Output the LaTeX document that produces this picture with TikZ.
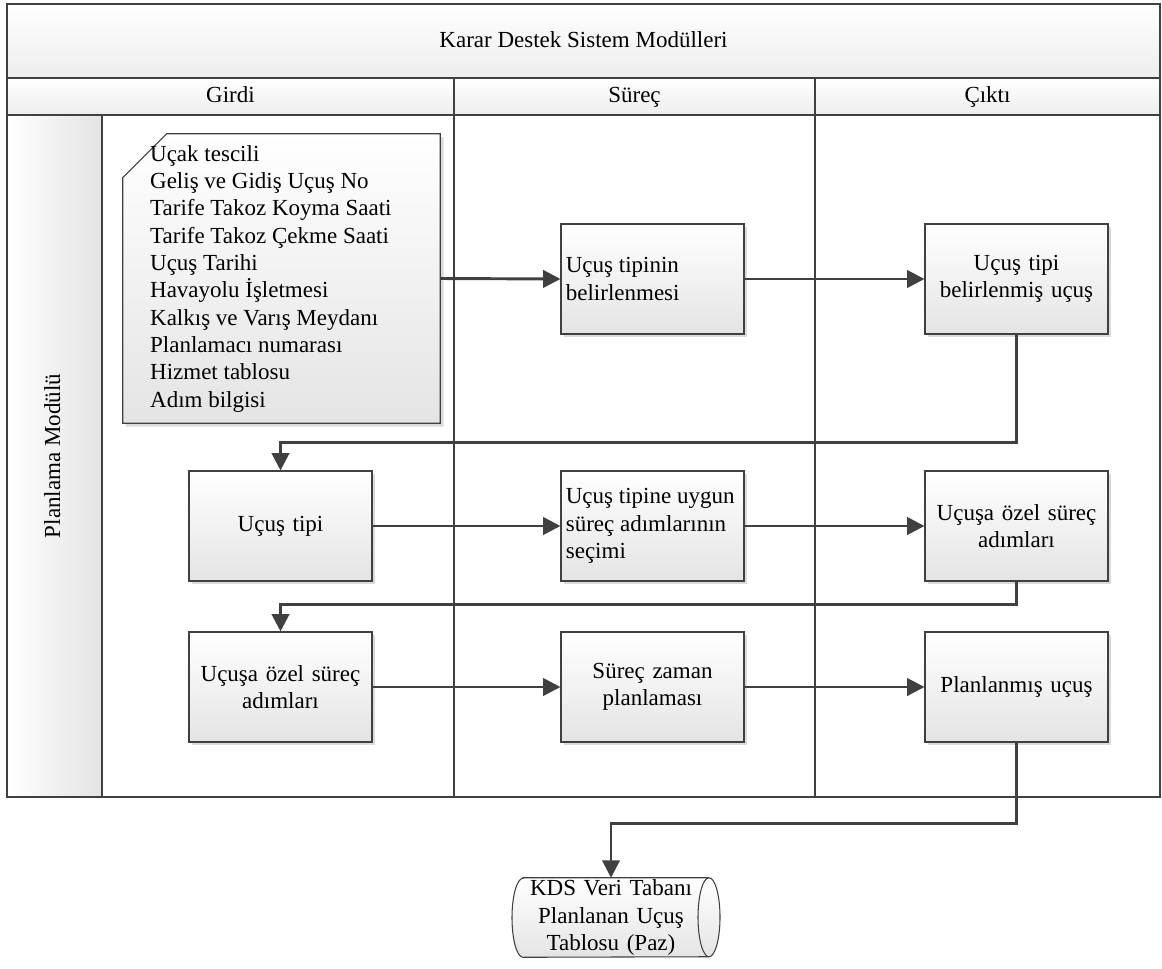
\documentclass[tikz,border=0pt]{standalone}
\usepackage{fontspec}
\setmainfont{Liberation Serif}
\usetikzlibrary{arrows.meta,shadows,backgrounds}
\definecolor{linegray}{HTML}{404040}
\definecolor{fillgray}{HTML}{E4E4E4}
\def\kdsfont{\fontsize{17.25}{20.5}\selectfont}
\tikzset{
	box/.style={draw=linegray, line width=0.8pt, top color=white, bottom color=fillgray,
		drop shadow={shadow xshift=2.5pt, shadow yshift=-2.5pt, fill=black!14, opacity=1},
		minimum width=137.25pt, minimum height=82.5pt, inner xsep=2.6pt, text width=132pt,
		align=center, font=\kdsfont},
	boxleft/.style={box, align=flush left, inner xsep=3.6pt, text width=130pt},
	notebox/.style={draw=linegray, line width=0.8pt, top color=white, bottom color=fillgray,
		drop shadow={shadow xshift=2.5pt, shadow yshift=-2.5pt, fill=black!14, opacity=1}},
	flow/.style={draw=linegray, line width=2.2pt, -{Triangle[length=13pt, width=13pt]}},
	frame/.style={draw=linegray, line width=1.1pt},
	head/.style={font=\kdsfont, anchor=base}
}

\begin{document}
\begin{tikzpicture}[x=0.75pt, y=-0.75pt]
			%%%%% START %%%%%
			\useasboundingbox (0, 0) rectangle (1162, 968);
			
			% title and header rows
			\draw[frame, top color=white, bottom color=black!7] (7, 4) rectangle (1160, 78);
			\draw[frame, top color=white, bottom color=black!7] (7, 78) rectangle (1160, 115);
			\draw[frame, left color=white, right color=black!11] (7, 115) rectangle (102, 797);
			\draw[frame] (7, 4) rectangle (1160, 797);
			\draw[frame] (454, 78) -- (454, 797);
			\draw[frame] (815, 78) -- (815, 797);
			
			\node[head] (baslik) at (583.5, 47) {Karar Destek Sistem Modülleri};
			\node[head] (girdibaslik) at (230.5, 102) {Girdi};
			\node[head] (surecbaslik) at (634.5, 102) {Süreç};
			\node[head] (ciktibaslik) at (987.5, 102) {Çıktı};
			\node[font=\kdsfont, rotate=90, anchor=base] (modul) at (60, 456) {Planlama Modülü};
			
			% input note
			\node[font=\kdsfont, align=flush left, text width=197pt, inner xsep=20pt,
				minimum width=237.75pt, minimum height=216.75pt] (girdi) at (281.5, 278.5)
				{Uçak tescili\\ Geliş ve Gidiş Uçuş No\\ Tarife Takoz Koyma Saati\\
				 Tarife Takoz Çekme Saati\\ Uçuş Tarihi\\ Havayolu İşletmesi\\
				 Kalkış ve Varış Meydanı\\ Planlamacı numarası\\ Hizmet tablosu\\ Adım bilgisi};
			\begin{scope}[on background layer]
				\draw[notebox] ([yshift=-33pt]girdi.north west) -- ([xshift=33pt]girdi.north west)
					-- (girdi.north east) -- (girdi.south east) -- (girdi.south west) -- cycle;
			\end{scope}
			
			% row 1
			\node[boxleft] (belirleme) at (652.5, 279) {Uçuş tipinin\\ belirlenmesi};
			\node[box] (tipli) at (1016.5, 279) {Uçuş tipi\\ belirlenmiş uçuş};
			
			% row 2
			\node[box] (ucustipi) at (280.5, 526) {Uçuş tipi};
			\node[boxleft] (secim) at (652.5, 526) {Uçuş tipine uygun\\ süreç adımlarının\\ seçimi};
			\node[box] (adimlar) at (1016.5, 526) {Uçuşa özel süreç\\ adımları};
			
			% row 3
			\node[box] (ozeladim) at (280.5, 687) {Uçuşa özel süreç\\ adımları};
			\node[box] (zaman) at (652.5, 687) {Süreç zaman\\ planlaması};
			\node[box] (planli) at (1016.5, 687) {Planlanmış uçuş};
			
			% database
			\node[font=\kdsfont, align=center, text width=130pt, minimum height=59.25pt,
				inner sep=0pt] (kds) at (611, 917.5)
				{KDS Veri Tabanı\\ Planlanan Uçuş\\ Tablosu (Paz)};
			\begin{scope}[on background layer]
				\draw[draw=linegray, line width=0.8pt, top color=white, bottom color=fillgray]
					([xshift=-66pt]kds.north) -- ([xshift=73.5pt]kds.north)
					arc[start angle=90, end angle=-90, x radius=8.25pt, y radius=29.625pt]
					-- ([xshift=-66pt]kds.south)
					arc[start angle=-90, end angle=-270, x radius=8.25pt, y radius=29.625pt] -- cycle;
				\draw[draw=linegray, line width=0.8pt] ([xshift=73.5pt]kds.north)
					arc[start angle=90, end angle=270, x radius=8.25pt, y radius=29.625pt];
			\end{scope}
			
			% connectors
			\draw[flow] (girdi.east) -- (belirleme.west);
			\draw[flow] (belirleme.east) -- (tipli.west);
			\draw[flow] (tipli.south) -- ++(0, 108) -| (ucustipi.north);
			\draw[flow] (ucustipi.east) -- (secim.west);
			\draw[flow] (secim.east) -- (adimlar.west);
			\draw[flow] (adimlar.south) -- ++(0, 23) -| (ozeladim.north);
			\draw[flow] (ozeladim.east) -- (zaman.west);
			\draw[flow] (zaman.east) -- (planli.west);
			\draw[flow] (planli.south) -- ++(0, 81) -| (kds.north);
			
			%%%%% END %%%%%
\end{tikzpicture}
\end{document}
